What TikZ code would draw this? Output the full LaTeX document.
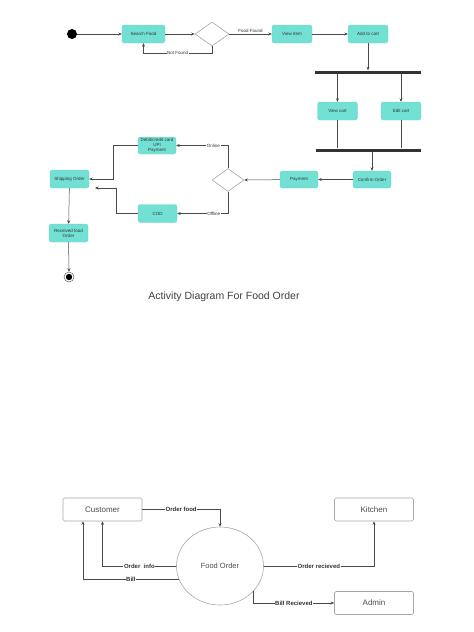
\documentclass[tikz,border=0pt]{standalone}
\usepackage{fontspec}
\setmainfont{Liberation Sans}
\usetikzlibrary{arrows.meta,shapes.geometric}
\definecolor{actfill}{HTML}{72E0D3}
\definecolor{lncol}{HTML}{4A4A4A}
\begin{document}
\begin{tikzpicture}[x=1pt,y=-1pt,
  act/.style={rectangle,rounded corners=2.5pt,fill=actfill,draw=actfill!85!gray,line width=0.4pt,
    minimum width=40pt,minimum height=18pt,inner sep=1pt,align=center,
    font=\fontsize{4.5}{5.2}\selectfont,text=black!80},
  dec/.style={diamond,draw=gray!70,fill=white,line width=0.6pt,minimum width=34pt,minimum height=24pt,inner sep=0pt},
  bar/.style={rectangle,fill=black!80,minimum height=3pt,inner sep=0pt},
  ar/.style={draw=lncol,line width=0.5pt,-{Stealth[length=3.5pt,width=3pt]}},
  pl/.style={draw=lncol,line width=0.5pt},
  lbl/.style={font=\fontsize{4.5}{5}\selectfont,text=black!80,inner sep=0.6pt},
  ent/.style={rectangle,rounded corners=1.5pt,draw=gray!70,line width=0.6pt,minimum width=79pt,
    minimum height=23pt,font=\fontsize{8}{9}\selectfont,text=black!70},
  dl/.style={font=\bfseries\fontsize{6}{7}\selectfont,text=black!80,fill=white,inner sep=0.6pt}
]
\useasboundingbox (0,0) rectangle (474,632);
% ---------- activity diagram ----------
\node[circle,fill=black,minimum size=10pt,inner sep=0pt] (start) at (72,34) {};
\node[act,minimum width=43pt] (search) at (143.5,34) {Search Food};
\node[dec] (d1) at (212,34) {};
\node[act] (view) at (292,34) {View Item};
\node[act] (add) at (368,34) {Add to cart};
\node[bar,minimum width=106pt] (fork) at (368,72) {};
\node[act] (vcart) at (337.5,111) {View  cart};
\node[act] (ecart) at (401,111) {Edit cart};
\node[bar,minimum width=105pt] (join) at (368.5,150) {};
\node[act,minimum width=38pt,minimum height=17pt] (confirm) at (372,179.5) {Confirm Order};
\node[act,minimum width=38pt,minimum height=17pt] (pay) at (299,179.5) {Payment};
\node[dec,minimum width=32pt,minimum height=23pt] (d2) at (228,180) {};
\node[act,minimum width=38pt,minimum height=17pt] (debit) at (157,145.5) {Debit/credit card\\UPI\\Payment};
\node[act,minimum width=39pt,minimum height=18pt] (cod) at (157.5,213.5) {COD};
\node[act,minimum width=39pt,minimum height=18pt] (ship) at (69.5,179) {Shipping Order};
\node[act,minimum width=39pt,minimum height=18pt] (recv) at (68.5,233) {Received food\\Order};
\node[circle,draw=black!60,fill=white,line width=0.5pt,minimum size=10pt,inner sep=0pt] (end) at (69,277) {};
\fill[black] (end) circle (3.2pt);
\coordinate (shipin) at (95,188);

\draw[ar] (start) -- (search);
\draw[ar] (search) -- (d1);
\draw[ar] (d1.south) -- ++(0,7) -| node[lbl,fill=white,pos=0.25]{Not Found} (search.south);
\draw[ar] (d1.east) -- node[lbl,above=0.5pt]{Food Found} (view);
\draw[ar] (view) -- (add);
\draw[ar] (add) -- (add |- fork.north);
\draw[ar] (fork.south -| vcart) -- (vcart);
\draw[ar] (fork.south -| ecart) -- (ecart);
\draw[pl] (vcart) -- (vcart |- join.north);
\draw[pl] (ecart) -- (ecart |- join.north);
\draw[ar] (join.south -| confirm) -- (confirm);
\draw[ar] (confirm) -- (pay);
\draw[ar] (pay) -- (d2.east);
\draw[ar] (d2.north) |- node[lbl,fill=white,pos=0.64]{Online} (debit.east);
\draw[ar] (d2.south) |- node[lbl,fill=white,pos=0.64]{Offline} (cod.east);
\draw[ar] (debit.west) -- ++(-25,0) |- (ship.east);
\draw[ar] (cod.west) -- ++(-22,0) |- (shipin);
\draw[ar] (ship) -- (recv);
\draw[ar] (recv) -- (end);
\node[font=\fontsize{10.5}{12}\selectfont,text=black!75] (title) at (224,297) {Activity Diagram For Food Order};
% ---------- data flow diagram ----------
\node[ent] (cust) at (102.5,509.5) {Customer};
\node[ent] (kitchen) at (374,509.5) {Kitchen};
\node[ent] (admin) at (374,603) {Admin};
\node[ellipse,draw=gray!70,line width=0.6pt,minimum width=87pt,minimum height=78pt,
  font=\fontsize{7.5}{9}\selectfont,text=black!70] (food) at (220,566) {Food Order};

\draw[ar] (cust.east) -| node[dl,pos=0.25]{Order food} (food.north);
\draw[ar] (food.west) -| node[dl,pos=0.25]{Order\ \ info} (cust.south);
\draw[ar] (food.198) -| node[dl,pos=0.25]{Bill} ([xshift=-19.5pt]cust.south);
\draw[ar] (food.east) -| node[dl,pos=0.25]{Order recieved} (kitchen.south);
\draw[ar] (food.323) |- node[dl,pos=0.75]{Bill Recieved} (admin.west);
\end{tikzpicture}
\end{document}
